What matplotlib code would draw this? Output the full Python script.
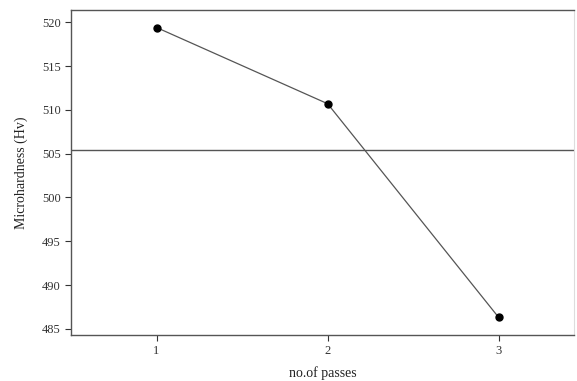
import matplotlib
matplotlib.use("Agg")
import matplotlib.pyplot as plt

passes = [1, 2, 3]
hardness = [519.4, 510.7, 486.3]
yticks = [485, 490, 495, 500, 505, 510, 515, 520]

mean_hv = sum(hardness) / len(hardness)

plt.rcParams['font.family'] = ['Liberation Serif', 'DejaVu Serif']

fig = plt.figure(figsize=(5.77, 3.81), dpi=100)
ax = fig.add_axes([71 / 577, 1 - 335 / 381, 503 / 577, 325 / 381])

ax.plot(passes, hardness, color='#555555', linewidth=0.9, marker='o',
        markersize=5, markerfacecolor='black', markeredgecolor='black')
ax.axhline(mean_hv, color='#555555', linewidth=1.0)

ax.set_xlim(0.5, 3.44)
ax.set_ylim(484.3, 521.4)
ax.set_xticks(passes)
ax.set_yticks(yticks)
ax.tick_params(labelsize=9, colors='#333333', length=4, width=0.8, direction='out')

for side in ['left', 'bottom', 'top']:
    ax.spines[side].set_color('#555555')
    ax.spines[side].set_linewidth(1.0)
ax.spines['right'].set_color('#dddddd')
ax.spines['right'].set_linewidth(0.8)

ax.set_xlabel('no.of passes', fontsize=10, color='#222222', labelpad=6)
ax.set_ylabel('Microhardness (Hv)', fontsize=10, color='#222222', labelpad=10)

fig.savefig('out.png', dpi=100)
